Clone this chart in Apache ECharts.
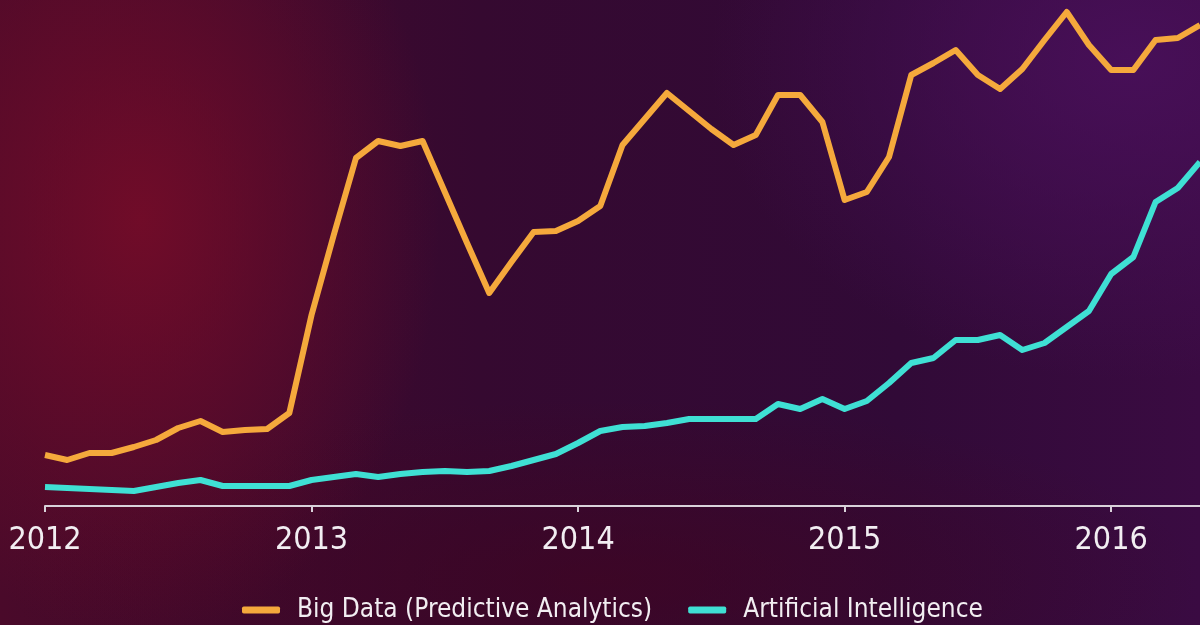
<!DOCTYPE html>
<html>
<head>
<meta charset="utf-8">
<script src="https://cdn.jsdelivr.net/npm/echarts@6/dist/echarts.min.js"></script>
<style>
  html, body { margin:0; padding:0; width:1200px; height:625px; overflow:hidden; }
  body {
    background:
      radial-gradient(ellipse 300px 420px at 140px 220px, rgba(120,12,40,0.85), rgba(120,12,40,0) 100%),
      radial-gradient(ellipse 420px 320px at 1130px 60px, rgba(74,16,92,0.85), rgba(74,16,92,0) 100%),
      radial-gradient(ellipse 600px 180px at 600px 580px, rgba(66,4,30,0.6), rgba(66,4,30,0) 100%),
      linear-gradient(to right, #4a0a2a 0%, #350930 40%, #310a37 75%, #3a0b42 100%);
  }
  #chart { width:1200px; height:625px; }
</style>
</head>
<body>
<div id="chart"></div>
<script>
// Monthly categories, Jan 2012 .. May 2016
const months = [
  '2012-01','2012-02','2012-03','2012-04','2012-05','2012-06','2012-07','2012-08','2012-09','2012-10','2012-11','2012-12',
  '2013-01','2013-02','2013-03','2013-04','2013-05','2013-06','2013-07','2013-08','2013-09','2013-10','2013-11','2013-12',
  '2014-01','2014-02','2014-03','2014-04','2014-05','2014-06','2014-07','2014-08','2014-09','2014-10','2014-11','2014-12',
  '2015-01','2015-02','2015-03','2015-04','2015-05','2015-06','2015-07','2015-08','2015-09','2015-10','2015-11','2015-12',
  '2016-01','2016-02','2016-03','2016-04','2016-05'
];

const bigData = [
  10.2, 9.2, 10.6, 10.6, 11.8, 13.2, 15.6, 17.0, 14.8, 15.2, 15.4, 18.6,
  38.2, 54.2, 69.6, 73.0, 72.0, 73.0, 62.8, 52.6, 42.6, 48.8, 54.8, 55.0,
  57.0, 60.0, 72.2, 77.4, 82.6, 79.0, 75.4, 72.2, 74.2, 82.2, 82.2, 76.8,
  61.2, 62.8, 69.8, 86.2, 88.6, 91.2, 86.2, 83.4, 87.4, 93.2, 98.8, 92.2,
  87.2, 87.2, 93.2, 93.6, 96.2
];

const ai = [
  3.8, 3.6, 3.4, 3.2, 3.0, 3.8, 4.6, 5.2, 4.0, 4.0, 4.0, 4.0,
  5.2, 5.8, 6.4, 5.8, 6.4, 6.8, 7.0, 6.8, 7.0, 8.0, 9.2, 10.4,
  12.6, 15.0, 15.8, 16.0, 16.6, 17.4, 17.4, 17.4, 17.4, 20.4, 19.4, 21.4,
  19.4, 21.0, 24.6, 28.6, 29.6, 33.2, 33.2, 34.2, 31.2, 32.6, 35.8, 39.0,
  46.4, 49.8, 60.8, 63.6, 68.8
];

const seriesNames = ['Big Data (Predictive Analytics)', 'Artificial Intelligence'];
const colors = ['#f5a93c', '#3fe0d4'];

const isYearStart = (idx, val) => String(val).endsWith('-01');
const FONT = "'Liberation Sans Narrow', 'DejaVu Sans Condensed', 'Liberation Sans', sans-serif";

const chart = echarts.init(document.getElementById('chart'), null, { renderer: 'canvas' });
chart.setOption({
  backgroundColor: 'transparent',
  animation: false,
  grid: { left: 45, right: 0, top: 6, bottom: 119, containLabel: false },
  legend: {
    data: seriesNames.map((n, i) => ({ name: n, itemStyle: { color: colors[i] } })),
    left: 237,
    top: 592,
    icon: 'roundRect',
    itemWidth: 38,
    itemHeight: 7,
    itemGap: 36,
    textStyle: { color: '#f2eef2', fontSize: 26, fontFamily: FONT, padding: [0, 0, 0, 12] }
  },
  xAxis: {
    type: 'category',
    data: months,
    boundaryGap: false,
    axisLine: { show: true, lineStyle: { color: '#d9d2da', width: 2 } },
    axisTick: { show: true, interval: isYearStart, length: 6, lineStyle: { color: '#d9d2da', width: 2 } },
    axisLabel: {
      interval: isYearStart,
      formatter: v => v.slice(0, 4),
      color: '#f2eef2',
      fontSize: 32,
      fontFamily: FONT,
      margin: 19
    },
    splitLine: { show: false }
  },
  yAxis: {
    type: 'value',
    min: 0,
    max: 100,
    show: false,
    splitLine: { show: false }
  },
  series: [
    {
      name: seriesNames[0],
      type: 'line',
      data: bigData,
      symbol: 'none',
      lineStyle: { color: colors[0], width: 6, join: 'round' },
      itemStyle: { color: colors[0] }
    },
    {
      name: seriesNames[1],
      type: 'line',
      data: ai,
      symbol: 'none',
      lineStyle: { color: colors[1], width: 6, join: 'round' },
      itemStyle: { color: colors[1] }
    }
  ]
});
</script>
</body>
</html>
